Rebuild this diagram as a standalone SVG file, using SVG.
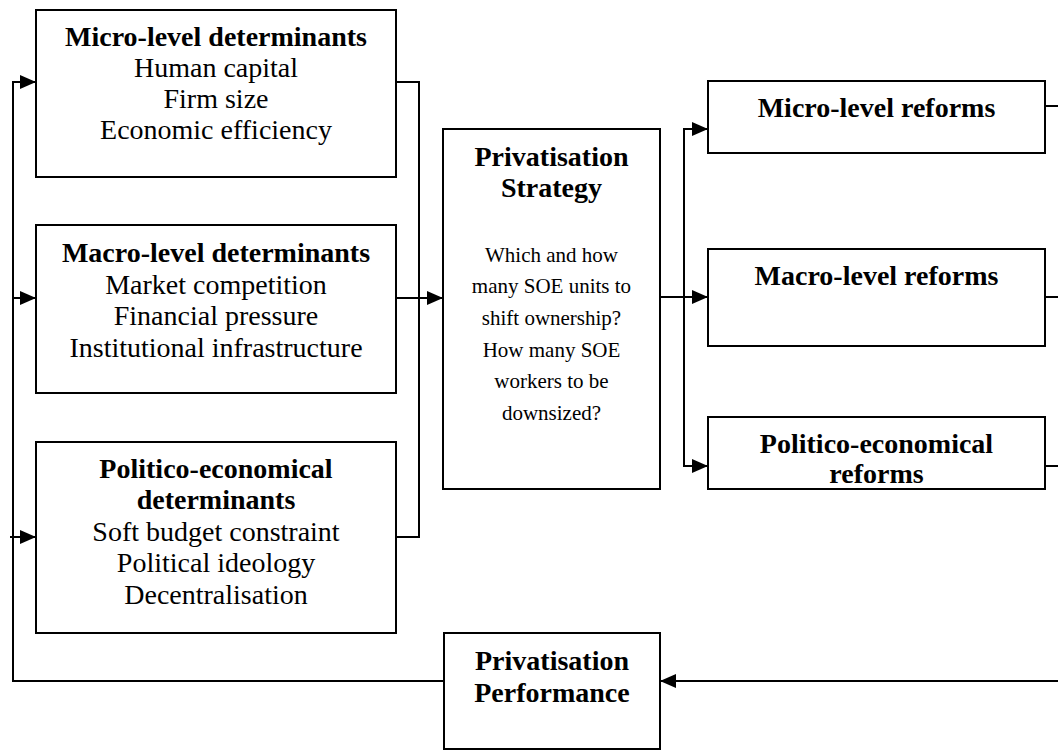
<svg xmlns="http://www.w3.org/2000/svg" width="1058" height="751" viewBox="0 0 1058 751">
<style>
.box{fill:#fff;stroke:#000;stroke-width:2}
.t{font-family:"Liberation Serif","Times New Roman",serif;font-size:28px;fill:#000;text-anchor:middle}
.b{font-weight:bold}
.s{font-size:21px}
.c{fill:none;stroke:#000;stroke-width:2}
</style>
<defs>
<marker id="arr" markerUnits="userSpaceOnUse" markerWidth="16" markerHeight="14" viewBox="0 0 16 14" refX="16" refY="7" orient="auto">
<path d="M0,0 L16,7 L0,14 z" fill="#000"/>
</marker>
</defs>
<rect width="1058" height="751" fill="#fff"/>
<g id="connectors">
<polyline class="c" points="444,681 13,681 13,82 36,82" marker-end="url(#arr)"/>
<line class="c" x1="13" y1="298" x2="36" y2="298" marker-end="url(#arr)"/>
<line class="c" x1="10" y1="537" x2="36" y2="537" marker-end="url(#arr)"/>
<polyline class="c" points="396,82 419,82 419,537 396,537"/>
<line class="c" x1="396" y1="298" x2="443" y2="298" marker-end="url(#arr)"/>
<line class="c" x1="660" y1="297" x2="708" y2="297" marker-end="url(#arr)"/>
<polyline class="c" points="708,129 684,129 684,466 708,466"/>
<line class="c" x1="684" y1="129" x2="708" y2="129" marker-end="url(#arr)"/>
<line class="c" x1="684" y1="466" x2="708" y2="466" marker-end="url(#arr)"/>
<line class="c" x1="1045" y1="106" x2="1058" y2="106"/>
<line class="c" x1="1045" y1="297" x2="1058" y2="297"/>
<line class="c" x1="1045" y1="466" x2="1058" y2="466"/>
<line class="c" x1="1058" y1="681" x2="660" y2="681" marker-end="url(#arr)"/>
</g>
<g id="micro-det">
<rect class="box" x="36" y="10" width="360" height="167"/>
<text class="t b" x="216" y="46">Micro-level determinants</text>
<text class="t" x="216" y="77">Human capital</text>
<text class="t" x="216" y="108">Firm size</text>
<text class="t" x="216" y="139">Economic efficiency</text>
</g>
<g id="macro-det">
<rect class="box" x="36" y="225" width="360" height="168"/>
<text class="t b" x="216" y="262">Macro-level determinants</text>
<text class="t" x="216" y="294">Market competition</text>
<text class="t" x="216" y="325">Financial pressure</text>
<text class="t" x="216" y="357">Institutional infrastructure</text>
</g>
<g id="politico-det">
<rect class="box" x="36" y="442" width="360" height="191"/>
<text class="t b" x="216" y="478">Politico-economical</text>
<text class="t b" x="216" y="509">determinants</text>
<text class="t" x="216" y="541">Soft budget constraint</text>
<text class="t" x="216" y="572">Political ideology</text>
<text class="t" x="216" y="604">Decentralisation</text>
</g>
<g id="strategy">
<rect class="box" x="443" y="129" width="217" height="360"/>
<text class="t b" x="551.5" y="166">Privatisation</text>
<text class="t b" x="551.5" y="197">Strategy</text>
<text class="t s" x="551.5" y="262">Which and how</text>
<text class="t s" x="551.5" y="293">many SOE units to</text>
<text class="t s" x="551.5" y="325">shift ownership?</text>
<text class="t s" x="551.5" y="357">How many SOE</text>
<text class="t s" x="551.5" y="388">workers to be</text>
<text class="t s" x="551.5" y="420">downsized?</text>
</g>
<g id="micro-ref">
<rect class="box" x="708" y="81" width="337" height="72"/>
<text class="t b" x="876.5" y="117">Micro-level reforms</text>
</g>
<g id="macro-ref">
<rect class="box" x="708" y="249" width="337" height="97"/>
<text class="t b" x="876.5" y="285">Macro-level reforms</text>
</g>
<g id="politico-ref">
<rect class="box" x="708" y="417" width="337" height="72"/>
<text class="t b" x="876.5" y="453">Politico-economical</text>
<text class="t b" x="876.5" y="483">reforms</text>
</g>
<g id="performance">
<rect class="box" x="444" y="633" width="216" height="116"/>
<text class="t b" x="552" y="670">Privatisation</text>
<text class="t b" x="552" y="702">Performance</text>
</g>
</svg>
